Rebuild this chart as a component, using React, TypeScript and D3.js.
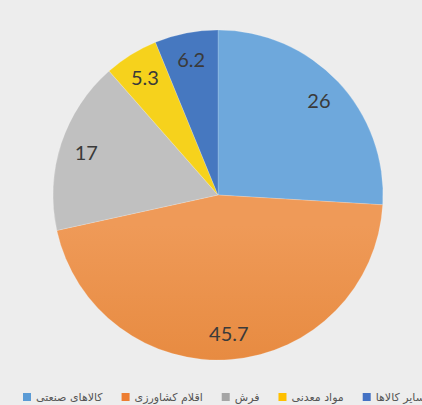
import React, { useEffect, useRef } from "react";
import * as d3 from "d3";

const categories = ["کالاهای صنعتی", "اقلام کشاورزی", "فرش", "مواد معدنی", "سایر کالاها"];
const values = [26, 45.7, 17, 5.3, 6.2];
const labels = ["26", "45.7", "17", "5.3", "6.2"];
const topColors = ["#6ea8dc", "#ef9a58", "#c0c0c0", "#f6d21c", "#4678c0"];
const bottomColors = ["#3c80c5", "#dc7520", "#a2a2a2", "#ecc000", "#2e62aa"];
const swatchColors = ["#5b9bd5", "#ed7d31", "#a5a5a5", "#ffc000", "#4472c4"];

const W = 422;
const H = 405;

export default function App() {
  const ref = useRef<SVGSVGElement | null>(null);

  useEffect(() => {
    const svg = d3.select(ref.current);
    svg.selectAll("*").remove();

    const cx = 218;
    const cy = 195;
    const r = 165;

    svg.append("rect").attr("width", W).attr("height", H).attr("fill", "#ededed");

    const defs = svg.append("defs");
    categories.forEach((_, i) => {
      const g = defs
        .append("linearGradient")
        .attr("id", "grad" + i)
        .attr("gradientUnits", "userSpaceOnUse")
        .attr("x1", 0)
        .attr("y1", cy - r)
        .attr("x2", 0)
        .attr("y2", cy + r);
      g.append("stop").attr("offset", "0%").attr("stop-color", topColors[i]);
      g.append("stop").attr("offset", "100%").attr("stop-color", bottomColors[i]);
    });

    const pie = d3.pie<number>().sort(null).value((d) => d);
    const arcs = pie(values);
    const arc = d3.arc<d3.PieArcDatum<number>>().innerRadius(0).outerRadius(r);
    const labelArc = d3.arc<d3.PieArcDatum<number>>().innerRadius(r * 0.84).outerRadius(r * 0.84);

    const gPie = svg.append("g").attr("transform", `translate(${cx},${cy})`);
    gPie
      .selectAll("path")
      .data(arcs)
      .join("path")
      .attr("d", arc)
      .attr("fill", (_, i) => `url(#grad${i})`)
      .attr("stroke", "rgba(255,255,255,0.3)")
      .attr("stroke-width", 0.6);

    gPie
      .selectAll("text")
      .data(arcs)
      .join("text")
      .attr("transform", (d) => {
        const [x, y] = labelArc.centroid(d);
        return `translate(${x},${y})`;
      })
      .attr("text-anchor", "middle")
      .attr("dominant-baseline", "central")
      .attr("font-family", "Lato, 'Open Sans', sans-serif")
      .attr("font-size", 20)
      .attr("fill", "#3a3a3a")
      .text((_, i) => labels[i]);

    // legend
    const legend = svg.append("g");
    let x = 23;
    const ly = 393;
    categories.forEach((c, i) => {
      legend
        .append("rect")
        .attr("x", x)
        .attr("y", ly)
        .attr("width", 8)
        .attr("height", 8)
        .attr("fill", swatchColors[i]);
      const t = legend
        .append("text")
        .attr("x", x + 13)
        .attr("y", ly + 7.5)
        .attr("font-family", "'DejaVu Sans', sans-serif")
        .attr("font-size", 11)
        .attr("fill", "#555")
        .text(c);
      const w = (t.node() as SVGTextElement).getComputedTextLength();
      x += 13 + w + 19;
    });
  }, []);

  return (
    <svg
      ref={ref}
      width={W}
      height={H}
      style={{ position: "absolute", left: 0, top: 0, display: "block" }}
    />
  );
}
